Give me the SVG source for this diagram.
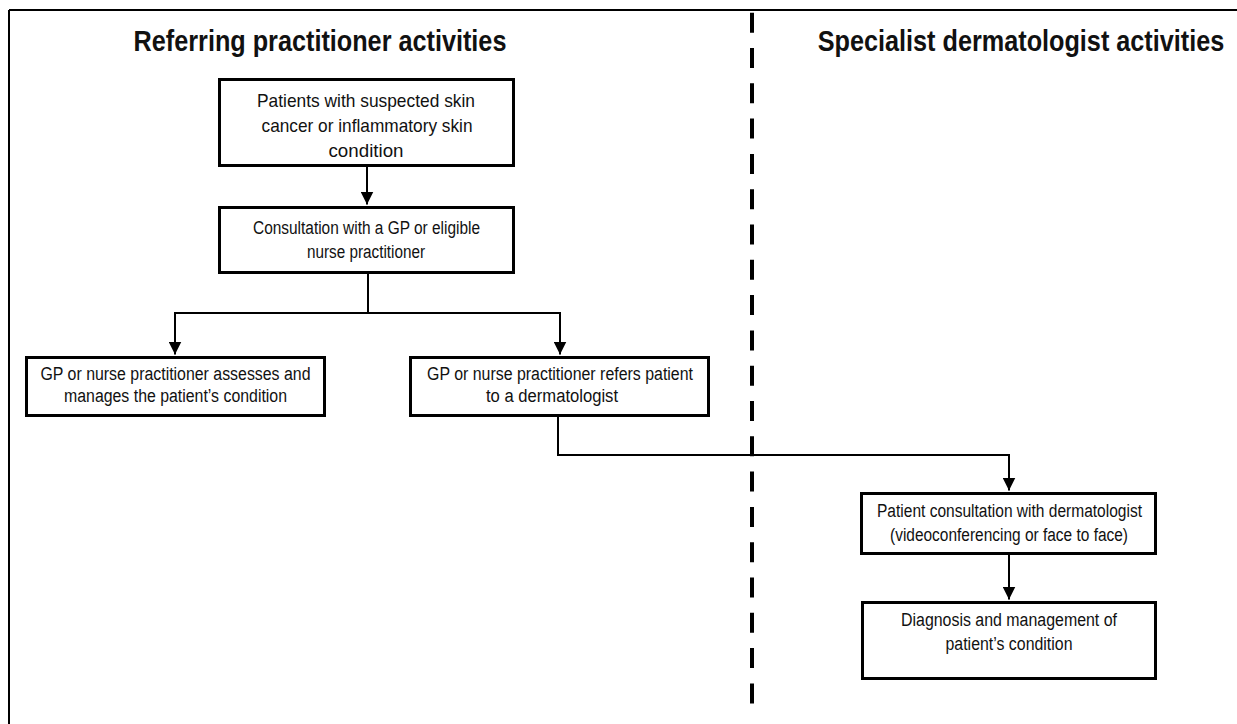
<svg xmlns="http://www.w3.org/2000/svg" width="1237" height="724" viewBox="0 0 1237 724">
<style>
.box{fill:#fff;stroke:#000;stroke-width:3}
.t{font-family:"Liberation Sans",Arial,sans-serif;fill:#111;text-anchor:middle}
.title{font-family:"Liberation Sans",Arial,sans-serif;font-weight:bold;font-size:29px;fill:#111;text-anchor:middle}
.c{fill:none;stroke:#000;stroke-width:2}
</style>
<defs>
<marker id="ah" markerUnits="userSpaceOnUse" markerWidth="13" markerHeight="13" viewBox="0 0 13 13" refX="13" refY="6.5" orient="auto">
<path d="M0,0 L13,6.5 L0,13 z" fill="#000"/>
</marker>
</defs>
<rect width="1237" height="724" fill="#fff"/>
<g id="frame">
<path d="M9,10 H1237 M9,10 V724" fill="none" stroke="#000" stroke-width="2"/>
<line x1="752" y1="12.7" x2="752" y2="704" stroke="#000" stroke-width="4" stroke-dasharray="20 15.3"/>
</g>
<g id="titles">
<text class="title" transform="translate(320,51) scale(0.87,1)" x="0" y="0">Referring practitioner activities</text>
<text class="title" transform="translate(1021,51) scale(0.87,1)" x="0" y="0">Specialist dermatologist activities</text>
</g>
<g id="connectors">
<line class="c" x1="367" y1="167" x2="367" y2="204.5" marker-end="url(#ah)"/>
<polyline class="c" points="368,274 368,313"/>
<line class="c" x1="174" y1="313" x2="561" y2="313"/>
<line class="c" x1="175" y1="312" x2="175" y2="354.5" marker-end="url(#ah)"/>
<line class="c" x1="560" y1="312" x2="560" y2="354.5" marker-end="url(#ah)"/>
<polyline class="c" points="558,417 558,455 1009,455 1009,490.5" marker-end="url(#ah)"/>
<line class="c" x1="1009" y1="555" x2="1009" y2="599.5" marker-end="url(#ah)"/>
</g>
<g id="n1">
<rect class="box" x="219.5" y="79.5" width="294" height="86"/>
<text class="t" font-size="19" x="366" y="107" textLength="218" lengthAdjust="spacingAndGlyphs">Patients with suspected skin</text>
<text class="t" font-size="19" x="367" y="132" textLength="211" lengthAdjust="spacingAndGlyphs">cancer or inflammatory skin</text>
<text class="t" font-size="19" x="366" y="157" textLength="75" lengthAdjust="spacingAndGlyphs">condition</text>
</g>
<g id="n2">
<rect class="box" x="219.5" y="207.5" width="294" height="65"/>
<text class="t" font-size="18" x="366.5" y="234" textLength="227" lengthAdjust="spacingAndGlyphs">Consultation with a GP or eligible</text>
<text class="t" font-size="18" x="366" y="258" textLength="118" lengthAdjust="spacingAndGlyphs">nurse practitioner</text>
</g>
<g id="n3">
<rect class="box" x="26.5" y="357.5" width="298" height="58"/>
<text class="t" font-size="18" x="175.5" y="380" textLength="270" lengthAdjust="spacingAndGlyphs">GP or nurse practitioner  assesses and</text>
<text class="t" font-size="18" x="175.5" y="402" textLength="223" lengthAdjust="spacingAndGlyphs">manages the patient’s  condition</text>
</g>
<g id="n4">
<rect class="box" x="410.5" y="357.5" width="298" height="58"/>
<text class="t" font-size="18" x="560" y="380" textLength="266" lengthAdjust="spacingAndGlyphs">GP or nurse practitioner  refers patient</text>
<text class="t" font-size="18" x="552" y="402" textLength="132" lengthAdjust="spacingAndGlyphs">to a dermatologist</text>
</g>
<g id="n5">
<rect class="box" x="861.5" y="493.5" width="294" height="60"/>
<text class="t" font-size="18" x="1009.5" y="517" textLength="265" lengthAdjust="spacingAndGlyphs">Patient consultation with dermatologist</text>
<text class="t" font-size="18" x="1009" y="541" textLength="238" lengthAdjust="spacingAndGlyphs">(videoconferencing or face to face)</text>
</g>
<g id="n6">
<rect class="box" x="862.5" y="602.5" width="293" height="76"/>
<text class="t" font-size="18" x="1009" y="626" textLength="216" lengthAdjust="spacingAndGlyphs">Diagnosis and management of</text>
<text class="t" font-size="18" x="1009" y="650" textLength="127" lengthAdjust="spacingAndGlyphs">patient’s  condition</text>
</g>
</svg>
